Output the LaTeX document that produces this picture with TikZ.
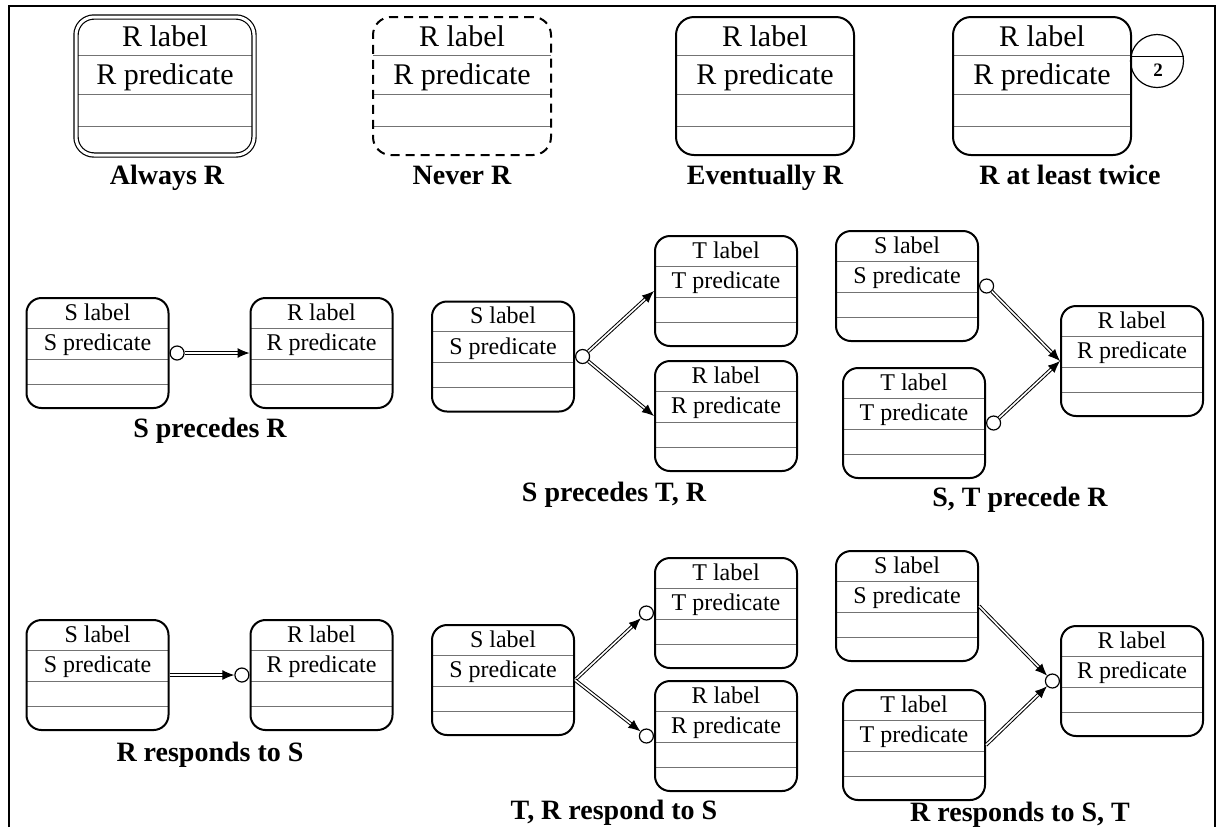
\documentclass[tikz,border=0pt]{standalone}
\usepackage{fontspec}
\setmainfont{Liberation Serif}
\usepackage{tikz}
\usetikzlibrary{arrows.meta, positioning, calc}

\newcommand{\smallstate}[3]{%
  \coordinate (#1-c) at (#2);
  \draw[sepline] ($(#1-c)+(-35.5pt,12.5pt)$) -- ($(#1-c)+(35.5pt,12.5pt)$);
  \draw[sepline] ($(#1-c)+(-35.5pt,-3pt)$) -- ($(#1-c)+(35.5pt,-3pt)$);
  \draw[sepline] ($(#1-c)+(-35.5pt,-15.5pt)$) -- ($(#1-c)+(35.5pt,-15.5pt)$);
  \node[sbox] (#1) at (#1-c) {};
  \node[stext] (#1-lbl) at ($(#1.north)+(0,-7.5pt)$) {#3 label};
  \node[stext] (#1-pred) at ($(#1.north)+(0,-22.75pt)$) {#3 predicate};
}
\newcommand{\bigstate}[3][]{%
  \coordinate (#2-c) at (#3);
  \draw[sepline] ($(#2-c)+(-44.5pt,15.5pt)$) -- ($(#2-c)+(44.5pt,15.5pt)$);
  \draw[sepline] ($(#2-c)+(-44.5pt,-4pt)$) -- ($(#2-c)+(44.5pt,-4pt)$);
  \draw[sepline] ($(#2-c)+(-44.5pt,-20pt)$) -- ($(#2-c)+(44.5pt,-20pt)$);
  \node[bbox, #1] (#2) at (#2-c) {};
  \node[btext] (#2-lbl) at ($(#2.north)+(0,-10pt)$) {R label};
  \node[btext] (#2-pred) at ($(#2.north)+(0,-29pt)$) {R predicate};
}

\begin{document}
\begin{tikzpicture}[x=0.5pt, y=-0.5pt,
    sbox/.style={draw, line width=1pt, rounded corners=7.5pt, minimum width=71pt, minimum height=55pt, inner sep=0},
    bbox/.style={draw, line width=1pt, rounded corners=9pt, minimum width=89pt, minimum height=69pt, inner sep=0},
    sepline/.style={draw=black!55, line width=0.5pt},
    stext/.style={font=\fontsize{12}{14}\selectfont, inner sep=0, text height=8.2pt, text depth=0pt},
    btext/.style={font=\fontsize{15}{18}\selectfont, inner sep=0, text height=10.2pt, text depth=0pt},
    capt/.style={font=\fontsize{14}{17}\selectfont\bfseries, inner sep=0, text height=9.5pt, text depth=0pt},
    ring/.style={circle, draw, line width=0.6pt, fill=white, minimum size=7pt, inner sep=0},
    link/.style={draw, double, double distance=0.8pt, line width=0.5pt, -{Latex[length=6pt, width=5pt]}}]

  \useasboundingbox (0,0) rectangle (1220,827);
  \draw[line width=1.2pt] (9,827) -- (9,6) -- (1215,6) -- (1215,827);

  \bigstate[double, double distance=1.5pt, line width=0.6pt]{always}{165,86}
  \bigstate[dash pattern=on 4.5pt off 3pt]{never}{462,86}
  \bigstate{event}{765,86}
  \bigstate{twice}{1042,86}
  \node[circle, draw, line width=0.6pt, minimum size=26.5pt, inner sep=0] (cnt) at (1157,61) {};
  \draw[line width=0.5pt] ([yshift=2.5pt]cnt.west) -- ([yshift=2.5pt]cnt.east);
  \node[font=\fontsize{9.5}{10}\selectfont\bfseries, inner sep=0] (cnt-num) at ($(cnt.center)+(0.5pt,-4.5pt)$) {2};

  \node[capt] (cap-always) at (167,175) {Always R};
  \node[capt] (cap-never) at (462,175) {Never R};
  \node[capt] (cap-event) at (765,175) {Eventually R};
  \node[capt] (cap-twice) at (1070,175) {R at least twice};

  \smallstate{s2a}{97.5,353}{S}
  \smallstate{r2a}{321.5,353}{R}
  \node[ring, right=0pt of s2a] (o2a) {};
  \draw[link] (o2a.east) -- (r2a.west |- o2a.east);
  \node[capt] (cap-2a) at (210,428) {S precedes R};

  \smallstate{s2b}{503,356.5}{S}
  \smallstate{t2b}{726,291}{T}
  \smallstate{r2b}{726,416}{R}
  \node[ring, right=0pt of s2b] (o2b) {};
  \draw[link] (o2b) -- (t2b.west);
  \draw[link] (o2b) -- (r2b.west);
  \node[capt] (cap-2b) at (614,492) {S precedes T, R};

  \smallstate{s2c}{907,286}{S}
  \smallstate{t2c}{914,423}{T}
  \smallstate{r2c}{1132,361}{R}
  \node[ring, right=0pt of s2c] (o2c-s) {};
  \node[ring, right=0pt of t2c] (o2c-t) {};
  \draw[link] (o2c-s) -- (r2c.west);
  \draw[link] (o2c-t) -- (r2c.west);
  \node[capt] (cap-2c) at (1020,497) {S, T precede R};

  \smallstate{s3a}{97.5,675}{S}
  \smallstate{r3a}{321.5,675}{R}
  \node[ring, left=0pt of r3a] (o3a) {};
  \draw[link] (s3a.east) -- (o3a);
  \node[capt] (cap-3a) at (210,752) {R responds to S};

  \smallstate{s3b}{503,680}{S}
  \smallstate{t3b}{726,613}{T}
  \smallstate{r3b}{726,736}{R}
  \node[ring, left=0pt of t3b] (o3b-t) {};
  \node[ring, left=0pt of r3b] (o3b-r) {};
  \draw[link] (s3b.east) -- (o3b-t);
  \draw[link] (s3b.east) -- (o3b-r);
  \node[capt] (cap-3b) at (614,810) {T, R respond to S};

  \smallstate{s3c}{907,606}{S}
  \smallstate{t3c}{914,745}{T}
  \smallstate{r3c}{1132,681}{R}
  \node[ring, left=0pt of r3c] (o3c) {};
  \draw[link] (s3c.east) -- (o3c);
  \draw[link] (t3c.east) -- (o3c);
  \node[capt] (cap-3c) at (1020,812) {R responds to S, T};
\end{tikzpicture}
\end{document}
